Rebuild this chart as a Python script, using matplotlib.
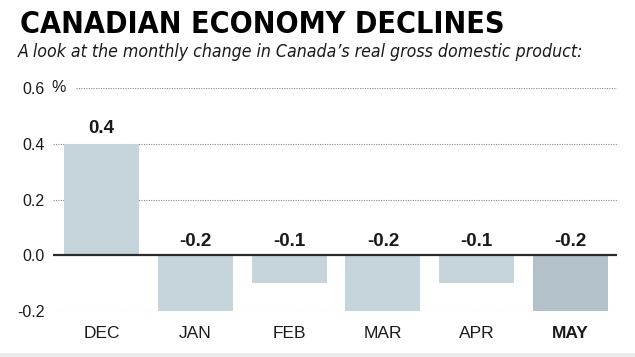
import matplotlib
matplotlib.use("Agg")
import matplotlib.pyplot as plt
import matplotlib.patches as mpatches

# ---------------------------------------------------------------------------
# Data
# ---------------------------------------------------------------------------
months = ["DEC", "JAN", "FEB", "MAR", "APR", "MAY"]
gdp_change = [0.4, -0.2, -0.1, -0.2, -0.1, -0.2]
value_labels = ["0.4", "-0.2", "-0.1", "-0.2", "-0.1", "-0.2"]
y_ticks = [-0.2, 0.0, 0.2, 0.4, 0.6]
y_tick_labels = ["-0.2", "0.0", "0.2", "0.4", "0.6"]

title = "CANADIAN ECONOMY DECLINES"
subtitle = "A look at the monthly change in Canada\u2019s real gross domestic product:"

BAR = "#c6d4dc"
BAR_LAST = "#b3c1ca"
GRID = "#8a8a8a"
FONTS = ["Liberation Sans", "DejaVu Sans"]

W, H = 635, 357
fig = plt.figure(figsize=(W / 100, H / 100), dpi=100)
fig.patch.set_facecolor("white")

# axes placed in pixel coordinates
left, right, top, bottom = 53, 617, 88, 311
ax = fig.add_axes([left / W, 1 - bottom / H, (right - left) / W, (bottom - top) / H])
ax.set_facecolor("white")

x = list(range(len(months)))
colors = [BAR] * (len(months) - 1) + [BAR_LAST]
ax.bar(x, gdp_change, width=0.8, color=colors, zorder=2)

ax.set_xlim(-0.517, 5.496)
ax.set_ylim(-0.2, 0.6)

# dotted grid lines (0.6 line starts after the % sign)
for yv in y_ticks:
    if yv == 0.0:
        continue
    xmin = (76 - left) / (right - left) if yv == 0.6 else 0
    ax.axhline(yv, xmin=xmin, color=GRID, lw=0.8, ls=(0, (1, 1.2)), zorder=1)
ax.axhline(0, color="#2b2b2b", lw=1.6, zorder=3)

for s in ax.spines.values():
    s.set_visible(False)

ax.set_yticks(y_ticks)
ax.set_yticklabels(y_tick_labels, family=FONTS, fontsize=11.5, color="#1a1a1a")
ax.tick_params(axis="y", length=0, pad=6)
ax.text(-0.517 + (51 - left) / 93.8, 0.6, "%", family=FONTS, fontsize=11.5,
        color="#1a1a1a", va="center", ha="left")

ax.set_xticks(x)
ax.set_xticklabels(months, family=FONTS, fontsize=12.5, color="#1a1a1a")
ax.get_xticklabels()[-1].set_fontweight("bold")
ax.tick_params(axis="x", length=0, pad=11)

for xi, v, lab in zip(x, gdp_change, value_labels):
    yv = v + 0.025 if v > 0 else 0.018
    ax.text(xi, yv, lab, ha="center", va="bottom", family=FONTS,
            fontsize=13.5, fontweight="bold", color="#1a1a1a")

fig.text(20 / W, 1 - 33 / H, title, family=["DejaVu Sans"], stretch="condensed",
         fontsize=21.8, fontweight="bold", color="black", va="baseline", ha="left")
fig.text(18 / W, 1 - 57 / H, subtitle, family=["DejaVu Sans"], stretch="condensed",
         fontsize=12.7, style="italic", color="#1a1a1a", va="baseline", ha="left")

# thin grey strip at the bottom edge
fig.patches.append(mpatches.Rectangle((0, 0), 1, 4 / H, transform=fig.transFigure,
                                      facecolor="#ececec", edgecolor="none"))

fig.savefig("out.png", dpi=100, facecolor="white")
